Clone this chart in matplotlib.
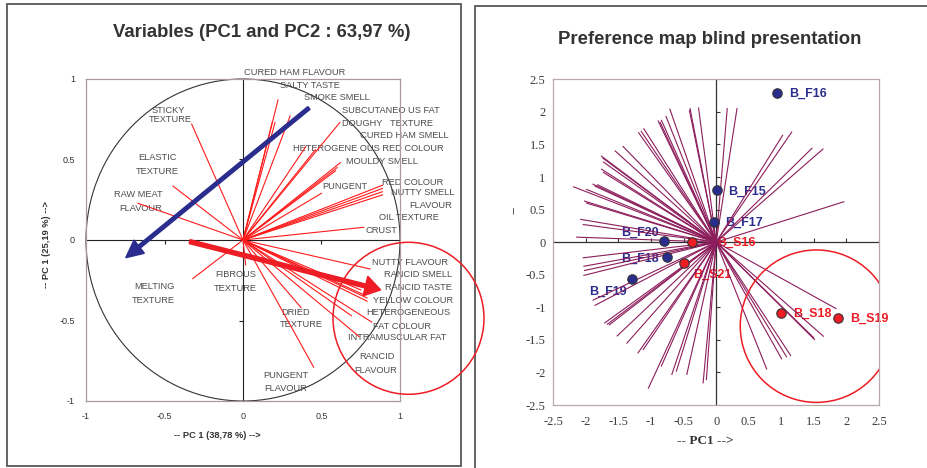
import matplotlib
matplotlib.use("Agg")
import matplotlib.pyplot as plt
from matplotlib.patches import Ellipse, Circle, Rectangle, FancyArrow
import numpy as np

plt.rcParams['font.family'] = ['Liberation Sans', 'DejaVu Sans']

# ---------------- data: variables (loadings on PC1 / PC2) ----------------
load_x = [-0.327, -0.446, -0.669, 0.223, 0.30, 0.204, 0.187, 0.617, 0.40, 0.46,
          0.62, 0.60, 0.59, 0.50, 0.888, 0.888, 0.888, 0.888, 0.77, 0.81,
          0.75, 0.77, 0.79, 0.79, 0.69, 0.82, 0.74, 0.37, 0.45, 0.017, -0.32]
load_y = [0.72, 0.335, 0.228, 0.87, 0.77, 0.73, 0.735, 0.73, 0.58, 0.56,
          0.48, 0.45, 0.43, 0.29, 0.34, 0.32, 0.30, 0.28, 0.079, -0.18,
          -0.31, -0.34, -0.36, -0.38, -0.47, -0.51, -0.60, -0.42, -0.79, -0.155, -0.24]

var_labels = ["CURED HAM FLAVOUR", "SALTY TASTE", "SMOKE SMELL", "SUBCUTANEO US FAT",
              "DOUGHY   TEXTURE", "CURED HAM SMELL", "HETEROGENE OUS RED COLOUR",
              "MOULDY SMELL", "PUNGENT", "RED COLOUR", "NUTTY SMELL", "FLAVOUR",
              "OIL TEXTURE", "CRUST", "STICKY", "TEXTURE", "ELASTIC", "TEXTURE",
              "RAW MEAT", "FLAVOUR", "NUTTY FLAVOUR", "RANCID SMELL", "RANCID TASTE",
              "YELLOW COLOUR", "HETEROGENEOUS", "FAT COLOUR", "INTRAMUSCULAR FAT",
              "RANCID", "FLAVOUR", "FIBROUS", "TEXTURE", "MELTING", "TEXTURE",
              "DRIED", "TEXTURE", "PUNGENT", "FLAVOUR"]
# label anchor points in the correlation-circle coordinates
var_label_x = [0.332, 0.429, 0.601, 0.943, 0.918, 1.027, 0.795, 0.888, 0.649, 1.079,
               1.143, 1.196, 1.055, 0.882, -0.475, -0.461, -0.543, -0.548, -0.664,
               -0.652, 1.066, 1.116, 1.116, 1.082, 1.052, 1.013, 0.981, 0.856, 0.843,
               -0.045, -0.048, -0.564, -0.572, 0.332, 0.369, 0.271, 0.272]
var_label_y = [1.042, 0.958, 0.884, 0.806, 0.722, 0.648, 0.570, 0.486, 0.331, 0.356,
               0.294, 0.216, 0.139, 0.058, 0.806, 0.750, 0.511, 0.424, 0.284, 0.194,
               -0.141, -0.213, -0.296, -0.373, -0.452, -0.539, -0.604, -0.725, -0.812,
               -0.213, -0.300, -0.290, -0.377, -0.449, -0.524, -0.839, -0.921]

# summary arrows drawn over the variables
blue_arrow = [(0.42, 0.82), (-0.747, -0.11)]
red_arrow = [(-0.34, -0.01), (0.877, -0.31)]

# ---------------- data: preference map ----------------
cons_x = [-0.71, -0.41, -0.40, -0.27, 0.17, 0.32, -0.89, -0.86, -0.84, -0.77, -1.19,
          -1.11, -1.15, -1.43, -1.55, -1.76, -1.74, -1.73, -1.76, -1.73, -1.89,
          -1.86, -1.82, -1.99, -2.19, -2.02, -1.99, -2.08, -2.04, -2.14,
          1.02, 1.16, 1.47, 1.64, 1.96,
          -2.04, -2.03, -2.02, -2.03, -1.89, -1.86, -1.71, -1.67, -1.64, -1.52,
          -1.37, -1.20, -1.12, -1.04, -0.84, -0.68, -0.61, -0.45, -0.20, -0.15,
          1.84, 1.646, 1.51, 1.50, 1.144, 1.08, 1.005, 0.775]
cons_y = [2.04, 2.02, 2.05, 2.06, 2.05, 2.05, 1.86, 1.84, 1.87, 1.93, 1.68,
          1.74, 1.70, 1.47, 1.40, 1.32, 1.29, 1.23, 1.12, 1.07, 0.89,
          0.86, 0.88, 0.81, 0.85, 0.63, 0.60, 0.35, 0.27, 0.077,
          1.64, 1.69, 1.44, 1.43, 0.62,
          -0.24, -0.37, -0.435, -0.51, -0.89, -0.97, -1.24, -1.26, -1.27, -1.44,
          -1.55, -1.70, -1.65, -2.24, -1.90, -2.03, -1.98, -2.03, -2.16, -2.11,
          -1.02, -1.444, -1.495, -1.47, -1.74, -1.76, -1.79, -1.946]

prod_names = ["B_F16", "B_F15", "B_F17", "B_F20", "B_F18", "B_F19",
              "B_S16", "B_S21", "B_S18", "B_S19"]
prod_x = [0.934, 0.012, -0.034, -0.80, -0.76, -1.29, -0.376, -0.49, 1.0, 1.876]
prod_y = [2.29, 0.80, 0.31, 0.015, -0.225, -0.56, 0.0, -0.32, -1.08, -1.167]
prod_group = ["F", "F", "F", "F", "F", "F", "S", "S", "S", "S"]

ticks_left = [-1, -0.5, 0, 0.5, 1]
tick_labels_left = ["-1", "-0.5", "0", "0.5", "1"]
ticks_right = [-2.5, -2, -1.5, -1, -0.5, 0, 0.5, 1, 1.5, 2, 2.5]
tick_labels_right = ["-2.5", "-2", "-1.5", "-1", "-0.5", "0", "0.5", "1", "1.5", "2", "2.5"]

# ---------------- figure ----------------
W, H = 928, 468
fig = plt.figure(figsize=(W / 100, H / 100), dpi=100)


def fx(x):
    return x / W


def fy(y):
    return 1 - y / H


BLUE = "#2b2d8e"
RED = "#ee1c24"
PURPLE = "#8c1d5c"
GREY_TXT = "#4d4d4d"

# panel frames
fig.add_artist(Rectangle((fx(7), fy(466)), (461 - 7) / W, (466 - 4) / H,
                         transform=fig.transFigure, fill=False, ec="#4a4a4a", lw=1.2))
fig.add_artist(Rectangle((fx(475), fy(480)), 500 / W, (480 - 6) / H,
                         transform=fig.transFigure, fill=False, ec="#4a4a4a", lw=1.2))

# ---------- left: correlation circle ----------
axL = fig.add_axes([86 / W, 1 - 401 / H, 314 / W, 322 / H])
axL.set_xlim(-1, 1)
axL.set_ylim(-1, 1)
for s in axL.spines.values():
    s.set_color("#a89a9a")
    s.set_linewidth(0.9)
axL.set_xticks(ticks_left)
axL.set_xticklabels(tick_labels_left)
axL.set_yticks(ticks_left)
axL.set_yticklabels(tick_labels_left)
axL.tick_params(length=0, labelsize=6.5, labelcolor="#333333", pad=8)

axL.axhline(0, color="#222222", lw=0.8, zorder=1)
axL.axvline(0, color="#222222", lw=0.8, zorder=1)
axL.plot([-0.5, 0.5], [0, 0], ls="none", marker=3, ms=3, mew=0.8, color="#222222")
axL.plot([0, 0], [-0.5, 0.5], ls="none", marker=0, ms=3, mew=0.8, color="#222222")
axL.add_patch(Circle((0, 0), 1, fill=False, ec="#333333", lw=0.8, clip_on=False))

for t, x, y in zip(var_labels, var_label_x, var_label_y):
    axL.text(x, y, t, fontsize=6.7, color=GREY_TXT, ha="center", va="center",
             clip_on=False, zorder=1)

for x, y in zip(load_x, load_y):
    axL.plot([0, x], [0, y], color="#ff1a1a", lw=0.8, zorder=2, clip_on=False)

(bx0, by0), (bx1, by1) = blue_arrow
axL.add_patch(FancyArrow(bx0, by0, bx1 - bx0, by1 - by0, width=0.022,
                         head_width=0.105, head_length=0.11, length_includes_head=True,
                         color=BLUE, zorder=3))
(rx0, ry0), (rx1, ry1) = red_arrow
axL.add_patch(FancyArrow(rx0, ry0, rx1 - rx0, ry1 - ry0, width=0.025,
                         head_width=0.125, head_length=0.1, length_includes_head=True,
                         color=RED, zorder=3, clip_on=False))

fig.text(fx(262), fy(32.3), "Variables (PC1 and PC2 : 63,97 %)", ha="center", va="center",
         fontsize=13.3, fontweight="bold", color="#333333")
fig.text(fx(217.5), fy(436), "-- PC 1 (38,78 %) -->", ha="center", va="center",
         fontsize=6.7, fontweight="bold", color="#333333")
fig.text(fx(46.7), fy(245), "-- PC 1 (25,19 %) -->", ha="center", va="center",
         rotation=90, fontsize=6.7, fontweight="bold", color="#333333")

# highlight ring around the rancid/yellow group
fig.add_artist(Ellipse((fx(408.5), fy(318.3)), 151 / W, 152 / H, transform=fig.transFigure,
                       fill=False, ec=RED, lw=1.1, zorder=5))

# ---------- right: preference map ----------
axR = fig.add_axes([553.3 / W, 1 - 405 / H, 325.7 / W, 325.7 / H])
axR.set_xlim(-2.5, 2.5)
axR.set_ylim(-2.5, 2.5)
for s in axR.spines.values():
    s.set_color("#b8a8b0")
    s.set_linewidth(0.9)
axR.set_xticks(ticks_right)
axR.set_xticklabels(tick_labels_right)
axR.set_yticks(ticks_right)
axR.set_yticklabels(tick_labels_right)
axR.tick_params(length=0, labelsize=9, labelcolor="#3a3a3a")
axR.tick_params(axis="x", pad=8)
axR.tick_params(axis="y", pad=5.5)
for lab in axR.get_xticklabels() + axR.get_yticklabels():
    lab.set_fontfamily(["Liberation Serif", "DejaVu Serif"])

axR.axhline(0, color="#333333", lw=0.9, zorder=1)
axR.axvline(0, color="#333333", lw=0.9, zorder=1)
axR.plot(ticks_right, [0] * len(ticks_right), ls="none", marker=2, ms=3, mew=0.8,
         color="#333333", zorder=1)
axR.plot([0] * len(ticks_right), ticks_right, ls="none", marker=1, ms=3, mew=0.8,
         color="#333333", zorder=1)

for x, y in zip(cons_x, cons_y):
    axR.plot([0, x], [0, y], color=PURPLE, lw=0.8, zorder=2)

# product label offsets (pixels) and alignment
label_dx = [12, 11.3, 11, -5, -7.4, -5, 25, 8.4, 11.4, 11.7]
label_dy = [0.6, 1.6, 0.4, -8.4, 2, 12.7, 0.6, 12, 1.3, 1]
label_ha = ["left", "left", "left", "right", "right", "right", "left", "left", "left", "left"]

for name, x, y, g, dx, dy, ha in zip(prod_names, prod_x, prod_y, prod_group,
                                      label_dx, label_dy, label_ha):
    c = BLUE if g == "F" else RED
    axR.plot(x, y, marker="o", ms=6.8, mfc=c, mec="#333333", mew=0.8, zorder=4)
    axR.annotate(name, (x, y), xytext=(dx * 0.72, -dy * 0.72), textcoords="offset points",
                 ha=ha, va="center", fontsize=9, fontweight="bold", color=c, zorder=1)

axR.add_patch(Circle((1.54, -1.29), 1.17, fill=False, ec=RED, lw=1.1, zorder=5))

fig.text(fx(709.5), fy(39), "Preference map blind presentation", ha="center", va="center",
         fontsize=13.3, fontweight="bold", color="#333333")
fig.text(fx(705.3), fy(441), "-- PC1 -->", ha="center", va="center", fontsize=9.5,
         fontweight="bold", color="#333333", family=["Liberation Serif", "DejaVu Serif"])
fig.text(fx(514.3), fy(210), "--", ha="center", va="center", rotation=90, fontsize=9,
         color="#555555", family=["Liberation Serif", "DejaVu Serif"])

fig.savefig("out.png", dpi=100)
